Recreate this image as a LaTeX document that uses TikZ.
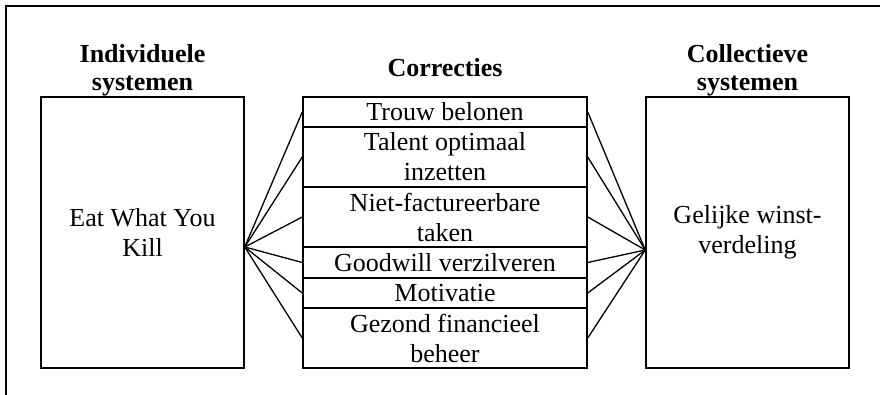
\documentclass[tikz,border=0pt]{standalone}
\usepackage{fontspec}
\setmainfont{Liberation Serif}
\usepackage{tikz}

\begin{document}
\begin{tikzpicture}[
    x=1pt, y=-1pt,
    sysbox/.style = {
      shape=rectangle,
      draw,
      line width=1.5pt,
      align=center,
      inner sep=0pt,
      minimum width=203pt,
      minimum height=271pt,
      font=\fontsize{26}{30}\selectfont
    },
    corr/.style = {
      shape=rectangle,
      draw,
      line width=1.5pt,
      align=center,
      inner sep=0pt,
      minimum width=284pt,
      font=\fontsize{26}{30}\selectfont
    },
    head/.style = {
      align=center,
      inner sep=0pt,
      font=\fontsize{26}{28}\selectfont\bfseries
    },
    fan/.style = {
      line width=1.3pt
    }
  ]

    \useasboundingbox (0,0) rectangle (880,395);

    % frame, only top and left edge in view
    \draw[line width=1.5pt] (880,6) -- (6,6) -- (6,395);

    % headings
    \node[head] (hind) at (142.5, 70) {Individuele\\systemen};
    \node[head] (hcorr) at (445, 68) {Correcties};
    \node[head] (hcol) at (747.5, 70) {Collectieve\\systemen};

    % the two systems
    \node[sysbox] (ind) at (142.5, 232.5) {Eat What You\\Kill};
    \node[sysbox] (col) at (747.5, 232.5) {Gelijke winst-\\verdeling};

    % corrections, stacked
    \node[corr, minimum height=30pt] (trouw)     at (445, 112)   {Trouw belonen};
    \node[corr, minimum height=60pt] (talent)    at (445, 157)   {Talent optimaal\\inzetten};
    \node[corr, minimum height=60pt] (niet)      at (445, 217)   {Niet-factureerbare\\taken};
    \node[corr, minimum height=31pt] (goodwill)  at (445, 262.5) {Goodwill verzilveren};
    \node[corr, minimum height=30pt] (motivatie) at (445, 293)   {Motivatie};
    \node[corr, minimum height=60pt] (gezond)    at (445, 338)   {Gezond financieel\\beheer};

    % fan points on the system boxes
    \coordinate (lhub) at ([yshift=-14.5pt]ind.east);
    \coordinate (rhub) at ([yshift=-17.5pt]col.west);

    % lines
    \foreach \r in {trouw,talent,niet,goodwill,motivatie,gezond} {
      \draw[fan] (lhub) -- (\r.west);
      \draw[fan] (\r.east) -- (rhub);
    }

  \end{tikzpicture}
\end{document}
